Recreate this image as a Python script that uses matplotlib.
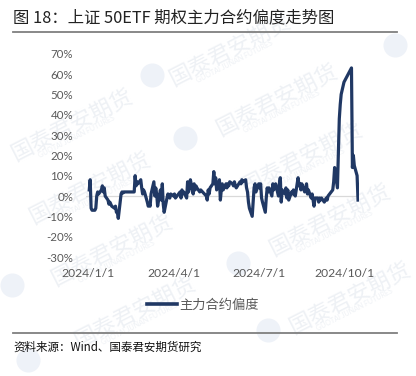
import pandas as pd
import matplotlib
matplotlib.use("Agg")
import matplotlib.pyplot as plt
from matplotlib.lines import Line2D

CJK = ['Noto Sans CJK SC', 'DejaVu Sans']
plt.rcParams['font.family'] = ['Lato', 'Noto Sans CJK SC', 'DejaVu Sans']

# 2024 trading calendar (SSE), values in %
holidays = ['2024-02-09', '2024-02-12', '2024-02-13', '2024-02-14', '2024-02-15',
            '2024-02-16', '2024-04-04', '2024-04-05', '2024-05-01', '2024-05-02',
            '2024-05-03', '2024-06-10', '2024-09-16', '2024-09-17', '2024-10-01',
            '2024-10-02', '2024-10-03', '2024-10-04', '2024-10-07']
jan = [3, 8, -6, -7, -7, -6, 0, 2, 1, 3, 5, 2, 4, 0, -2, -4, -3, -4, -5, -6, -5, -8]
feb = [-8, -11, 1, 2, 1.5, 2, 2, 10, 5, 7, 6, 8, 4, 1, 3]
mar = [2, -3, -5, -4, -5, 1, 7, 0, 4, 1, -5, 3, -2, 6, -4, -8, -1, 1, 0, -1, 1]
apr = [0, 1, -1, 2, -1, 3, 1, 2, -1, 7, 2, 4, 8, 1, 6, 3, 5, 4, 2, 3]
may = [0, -2, 3, 1, 4, 6, 12, 6, 9, 3, 8, -2, 3, 6, 3, 6, 4, 6, 5, 7]
jun = [6, 5, 7, 5, 4, 7, 6, 8, 7, 8, 4, 2, -3, -6, -10, -3, 4, 6, 2]
jul = [6, 4, 6, -1, -3, -8, -1, 4, 2, 4, 0, 6, 3, 4, 6, 0, 6, 9, -3, 3, 1, 4, -1]
aug = [3, -2, 2, 1, 3, 1, 0, 9, 5, 6, 3, 6, 2, 4, 6, 1, 3, -1, 1, -2, -5, -1]
sep = [-1, -3, -1, -2, -1, -3, -2, -1, -2, 0, 3, 7, 14, 4, 22, 38, 45, 50, 56]
octo = [63, 14, 20, 15, 10, -2]

days = pd.bdate_range('2024-01-02', '2024-10-15')
days = days[~days.isin(pd.to_datetime(holidays))]
skew = jan + feb + mar + apr + may + jun + jul + aug + sep + octo
skew = [v / 100 for v in skew]

tick_dates = pd.to_datetime(['2024-01-01', '2024-04-01', '2024-07-01', '2024-10-01'])
tick_labels = ['2024/1/1', '2024/4/1', '2024/7/1', '2024/10/1']
yticks = [-0.3, -0.2, -0.1, 0, 0.1, 0.2, 0.3, 0.4, 0.5, 0.6, 0.7]

W, H = 416, 376
fig = plt.figure(figsize=(W / 100, H / 100), dpi=100)

# faint watermark layer in pixel coords
bg = fig.add_axes([0, 0, 1, 1], zorder=-5)
bg.set_xlim(0, W)
bg.set_ylim(H, 0)
bg.axis('off')
wm = '#eef1f5'
for x, y in [(72, 125), (90, 188), (112, 250), (135, 312),
             (230, 50), (277, 100), (302, 158), (330, 220), (350, 298)]:
    bg.text(x, y, '国泰君安期货', family=CJK, fontsize=16, color=wm, rotation=27,
            ha='center', va='center')
    bg.text(x + 5, y + 12, 'GUOTAI JUNAN FUTURES', fontsize=5, color=wm, rotation=27,
            ha='center', va='center')
for x, y in [(152, 75), (185, 138), (238, 263), (268, 330), (395, 45), (12, 285), (28, 360)]:
    bg.scatter([x], [y], s=300, color='#eef2f8', marker='o', linewidths=0)

ax = fig.add_axes([85.5 / W, 1 - 257 / H, (358.5 - 85.5) / W, (257 - 53.7) / H])
ax.patch.set_alpha(0)
ax.axhline(0, color='#d9d9d9', lw=0.9, zorder=1)
ax.plot(days, skew, color='#203864', lw=2.3, zorder=3, solid_joinstyle='round')

ax.set_xlim(pd.Timestamp('2023-12-29'), pd.Timestamp('2024-10-15 12:00'))
ax.set_ylim(-0.3, 0.7)
ax.set_yticks(yticks)
ax.set_yticklabels([f'{round(v * 100)}%' for v in yticks])
ax.set_xticks(tick_dates)
ax.set_xticklabels(tick_labels)
ax.tick_params(axis='y', length=0, pad=9, labelsize=8.3, labelcolor='#595959')
ax.tick_params(axis='x', length=0, pad=8, labelsize=8.7, labelcolor='#595959')
for s in ax.spines.values():
    s.set_visible(False)

fig.text(13 / W, 1 - 18 / H, '图 18：上证 50ETF 期权主力合约偏度走势图', family=CJK,
         fontsize=11.8, color='#222222', va='center', ha='left')
fig.add_artist(Line2D([13 / W, 397 / W], [1 - 32 / H, 1 - 32 / H], color='#7f7f7f', lw=1.3))
fig.add_artist(Line2D([13 / W, 397 / W], [1 - 333 / H, 1 - 333 / H], color='#7f7f7f', lw=1.3))
fig.text(13 / W, 1 - 347 / H, '资料来源：Wind、国泰君安期货研究', family=CJK,
         fontsize=8.3, color='#111111', va='center', ha='left')

leg = fig.legend([Line2D([], [], color='#203864', lw=2.6)], ['主力合约偏度'],
                 loc='center', bbox_to_anchor=(203 / W, 1 - 305 / H), frameon=False,
                 prop={'family': CJK, 'size': 9.5}, handlelength=2.3, handletextpad=0.15)
for t in leg.get_texts():
    t.set_color('#595959')

fig.savefig('out.png', dpi=100)
